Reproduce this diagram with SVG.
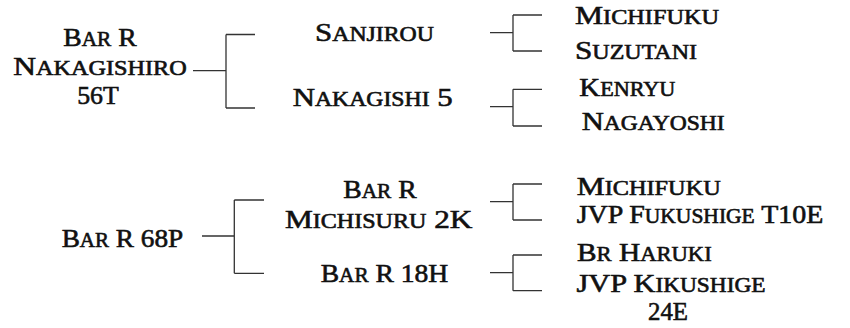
<svg xmlns="http://www.w3.org/2000/svg" width="850" height="328" viewBox="0 0 850 328">
<style>
text{font-family:"Liberation Serif","Times New Roman",serif;font-size:26px;font-weight:normal;fill:#111;stroke:#111;stroke-width:0.6}
.s{font-size:20px;text-transform:uppercase}
.m{text-anchor:middle}
.c{fill:none;stroke:#333;stroke-width:1.3}
</style>
<rect width="850" height="328" fill="#fff"/>
<g id="connectors">
<path class="c" d="M193,70.7H226M226,34.5V108M226,34.5H255M226,108H255"/>
<path class="c" d="M490,32.7H513M513,15V51M513,15H542M513,51H542"/>
<path class="c" d="M490,106.7H513M513,89.3V126M513,89.3H542M513,126H542"/>
<path class="c" d="M202,236H234.3M234.3,200V273.3M234.3,200H264M234.3,273.3H264"/>
<path class="c" d="M490,201.7H513M513,184V220M513,184H542M513,220H542"/>
<path class="c" d="M490,272.7H513M513,255V290.7M513,255H542M513,290.7H542"/>
</g>
<g id="n-root1"><text class="m" x="100" y="45.7" textLength="73.4" lengthAdjust="spacingAndGlyphs">B<tspan class="s">ar</tspan> R</text><text class="m" x="100" y="75" textLength="173.4" lengthAdjust="spacingAndGlyphs">N<tspan class="s">akagishiro</tspan></text><text class="m" x="98" y="104" textLength="41.6" lengthAdjust="spacingAndGlyphs">56T</text></g>
<g id="n-sanjirou"><text class="m" x="374.5" y="40.5" textLength="119" lengthAdjust="spacingAndGlyphs">S<tspan class="s">anjirou</tspan></text></g>
<g id="n-nakagishi5"><text class="m" x="372.7" y="106" textLength="160" lengthAdjust="spacingAndGlyphs">N<tspan class="s">akagishi</tspan> 5</text></g>
<g id="n-michifuku1"><text x="575" y="24" textLength="144" lengthAdjust="spacingAndGlyphs">M<tspan class="s">ichifuku</tspan></text></g>
<g id="n-suzutani"><text x="575" y="59.3" textLength="122" lengthAdjust="spacingAndGlyphs">S<tspan class="s">uzutani</tspan></text></g>
<g id="n-kenryu"><text x="579.3" y="95.7" textLength="96" lengthAdjust="spacingAndGlyphs">K<tspan class="s">enryu</tspan></text></g>
<g id="n-nagayoshi"><text x="581.7" y="130" textLength="143" lengthAdjust="spacingAndGlyphs">N<tspan class="s">agayoshi</tspan></text></g>
<g id="n-root2"><text class="m" x="122.5" y="246.7" textLength="121.6" lengthAdjust="spacingAndGlyphs">B<tspan class="s">ar</tspan> R 68P</text></g>
<g id="n-michisuru"><text class="m" x="380" y="198.3" textLength="73.4" lengthAdjust="spacingAndGlyphs">B<tspan class="s">ar</tspan> R</text><text class="m" x="378.7" y="227.7" textLength="187.3" lengthAdjust="spacingAndGlyphs">M<tspan class="s">ichisuru</tspan> 2K</text></g>
<g id="n-18h"><text class="m" x="384.5" y="282.3" textLength="127.6" lengthAdjust="spacingAndGlyphs">B<tspan class="s">ar</tspan> R 18H</text></g>
<g id="n-michifuku2"><text x="576.7" y="195" textLength="144" lengthAdjust="spacingAndGlyphs">M<tspan class="s">ichifuku</tspan></text></g>
<g id="n-fukushige"><text x="576.7" y="223.3" textLength="246.6" lengthAdjust="spacingAndGlyphs">JVP F<tspan class="s">ukushige</tspan> T10E</text></g>
<g id="n-haruki"><text x="577" y="260.7" textLength="134.7" lengthAdjust="spacingAndGlyphs">B<tspan class="s">r</tspan> H<tspan class="s">aruki</tspan></text></g>
<g id="n-kikushige"><text class="m" x="671" y="292" textLength="189" lengthAdjust="spacingAndGlyphs">JVP K<tspan class="s">ikushige</tspan></text><text class="m" x="668" y="320" textLength="40" lengthAdjust="spacingAndGlyphs">24E</text></g>
</svg>
